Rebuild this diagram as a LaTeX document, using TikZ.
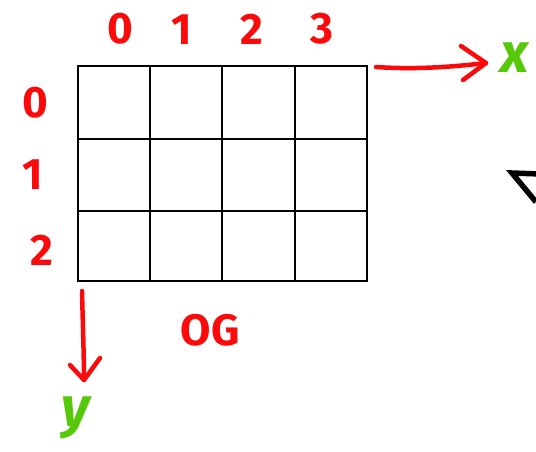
\documentclass[tikz,border=0pt]{standalone}
\usepackage{fontspec}
\setmainfont{Fira Sans}
\definecolor{penred}{RGB}{250,10,10}
\definecolor{pengreen}{RGB}{85,200,10}
\tikzset{
  num/.style={text=penred, font=\fontsize{44}{44}\selectfont\bfseries, inner sep=0pt},
  axlabel/.style={text=pengreen, font=\fontsize{56}{56}\selectfont\bfseries\itshape, inner sep=0pt},
  axline/.style={draw=penred, line width=4.5pt, line cap=round, line join=round},
  gridline/.style={draw=black, line width=2.6pt}
}
\begin{document}
\begin{tikzpicture}[x=1pt,y=-1pt]
\useasboundingbox (0,0) rectangle (536,451);
% grid
\draw[gridline] (78,66) rectangle (367,281);
\foreach \gx in {150,222,295} \draw[gridline] (\gx,66) -- (\gx,281);
\foreach \gy in {139,211} \draw[gridline] (78,\gy) -- (367,\gy);
% column labels
\node[num] (c0) at (120,29) {0};
\node[num] (c1) at (182,30) {1};
\node[num] (c2) at (252,29) {2};
\node[num] (c3) at (322,29) {3};
% row labels
\node[num] (r0) at (35,103) {0};
\node[num] (r1) at (33,175) {1};
\node[num] (r2) at (42,250) {2};
% OG
\node[num] (og) at (210,330) {OG};
% axes
\node[axlabel] (xl) at (515,58) {x};
\node[axlabel] (yl) at (76,418) {y};
\coordinate (xs) at (376,67);
\coordinate (xe) at (486,63);
\coordinate (ys) at (82,291);
\coordinate (ye) at (84,380);
\draw[axline] (xs) .. controls (420,70) and (460,66) .. (xe);
\draw[axline] (461,46) -- (xe) -- (463,80);
\draw[axline] (ys) .. controls (83,330) and (84,360) .. (ye);
\draw[axline] (70,365) -- (ye) -- (100,358);
% partial black arrow at right edge
\draw[line width=5.5pt] (540,174) -- (512,173) -- (536,202);
\end{tikzpicture}
\end{document}
